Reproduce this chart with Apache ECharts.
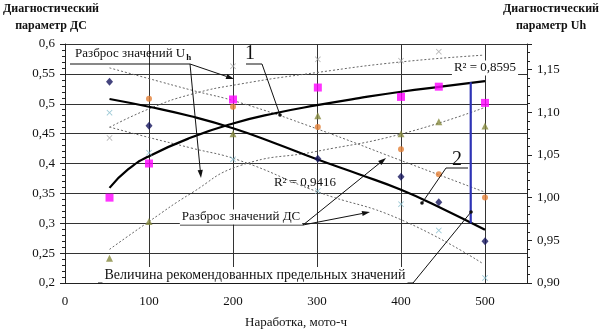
<!DOCTYPE html>
<html><head><meta charset="utf-8">
<script src="https://cdn.jsdelivr.net/npm/echarts@6/dist/echarts.min.js"></script>
<style>html,body{margin:0;padding:0;background:#fff}#c{width:601px;height:334px}</style>
</head><body><div id="c"></div>
<script>
// ---- data ----
const xRun = [53, 100, 200, 301, 400, 445, 500];
const dsDiamond = [0.537, 0.463, null, 0.408, 0.378, 0.335, 0.270];
const dsCircle = [null, 0.5085, 0.495, 0.461, 0.424, 0.382, 0.343];
const dsCross = [0.485, 0.418, 0.407, 0.354, 0.332, 0.288, 0.2085];
const uhSquare = [1.000, 1.040, 1.115, 1.129, 1.118, 1.130, 1.111];
const uhTriangle = [0.929, 0.972, 1.075, 1.096, 1.075, 1.089, 1.084];
const uhCross = [1.070, null, 1.154, 1.162, 1.1605, 1.171, null];

const trendUhX = [53, 75, 100, 150, 200, 250, 300, 350, 400, 450, 500];
const trendUh = [1.0115, 1.033, 1.0486, 1.0704, 1.0869, 1.0989, 1.1083, 1.1166, 1.1241, 1.1304, 1.1365];
const trendDsX = [53, 100, 150, 200, 250, 300, 350, 400, 450, 500];
const trendDs = [0.508, 0.495, 0.479, 0.459, 0.434, 0.407, 0.382, 0.356, 0.324, 0.289];

const bandX = [53, 100, 150, 208, 300, 400, 498];
const uhUpper = [1.0824, 1.104, 1.121, 1.133, 1.1466, 1.159, 1.1669];
const uhLower = [0.9394, 0.972, 1.005, 1.0374, 1.0543, 1.0745, 1.105];
const dsUpper = [0.560, 0.542, 0.523, 0.502, 0.458, 0.405, 0.353];
const dsLower = [0.461, 0.4435, 0.426, 0.405, 0.353, 0.306, 0.232];

const limitX = 483;
const limitRange = [0.300, 0.536];

const xTickLabels = ['0', '100', '200', '300', '400', '500'];
const leftTickLabels = ['0,2', '0,25', '0,3', '0,35', '0,4', '0,45', '0,5', '0,55', '0,6'];
const rightTickLabels = ['0,90', '0,95', '1,00', '1,05', '1,10', '1,15'];

// ---- helpers ----
const pair = (xs, ys) => xs.map((x, i) => [x, ys[i]]).filter(p => p[1] != null);
const F = '"Liberation Serif", "Times New Roman", serif';
const crossPath = 'path://M0,1L1,0L5,4L9,0L10,1L6,5L10,9L9,10L5,6L1,10L0,9L4,5Z';

function ln(x1, y1, x2, y2) {
  return { type: 'line', z: 50, shape: { x1, y1, x2, y2 }, style: { stroke: '#111', lineWidth: 1 } };
}
function dot(cx, cy) {
  return { type: 'circle', z: 51, shape: { cx, cy, r: 1.8 }, style: { fill: '#111' } };
}
function arrow(x1, y1, x2, y2) {
  const a = Math.atan2(y2 - y1, x2 - x1), L = 8, w = 2.6;
  const bx = x2 - L * Math.cos(a), by = y2 - L * Math.sin(a);
  return [ln(x1, y1, bx, by), {
    type: 'polygon', z: 50,
    shape: { points: [[x2, y2], [bx + w * Math.sin(a), by - w * Math.cos(a)], [bx - w * Math.sin(a), by + w * Math.cos(a)]] },
    style: { fill: '#111' }
  }];
}
function txt(x, y, text, size, opts) {
  opts = opts || {};
  return {
    type: 'text', z: 60, x, y,
    style: Object.assign({
      text, font: (opts.bold ? 'bold ' : '') + size + 'px ' + F, fill: '#111',
      align: opts.align || 'left', verticalAlign: 'middle'
    }, opts.bg ? { backgroundColor: '#fff', padding: [1, 2, 1, 2] } : {})
  };
}

const graphics = [
  txt(51, 9, 'Диагностический', 12, { bold: true, align: 'center' }),
  txt(51, 26, 'параметр ДС', 12, { bold: true, align: 'center' }),
  txt(551, 9, 'Диагностический', 12, { bold: true, align: 'center' }),
  txt(551, 26, 'параметр Uh', 12, { bold: true, align: 'center' }),

  {
    type: 'text', z: 60, x: 75, y: 54,
    style: {
      text: '{a|Разброс значений U}{b|h}', verticalAlign: 'middle', align: 'left',
      rich: {
        a: { font: '13px ' + F, fill: '#111', color: '#111' },
        b: { font: 'bold 9px ' + F, fill: '#111', color: '#111', padding: [7, 0, 0, 1] }
      }
    }
  },
  ln(70, 64, 190, 64),
  ...arrow(190, 64, 234, 79),
  ...arrow(190, 64, 201, 178),

  txt(250, 54, '1', 20, { align: 'center' }),
  ln(246, 64, 262, 64), ln(262, 64, 280, 115), dot(280, 115),

  txt(485, 68, 'R² = 0,8595', 13, { align: 'center', bg: true }),
  txt(305, 183, 'R² = 0,9416', 13, { align: 'center' }),

  txt(241, 217, 'Разброс значений ДС', 13, { align: 'center', bg: true }),
  ln(180, 225, 303, 225),
  ...arrow(303, 225, 386, 158),
  ...arrow(303, 225, 370, 212),

  txt(457, 160, '2', 20, { align: 'center' }),
  ln(446, 168, 468, 168), ln(446, 168, 422, 203), dot(422, 203),

  txt(255, 275, 'Величина рекомендованных предельных значений', 14, { align: 'center', bg: true }),
  ln(98, 283, 413, 283), ln(413, 283, 471, 212), dot(471, 212)
];

const chart = echarts.init(document.getElementById('c'), null, { renderer: 'canvas' });
const axisText = { fontFamily: F, fontSize: 13, color: '#111' };
const band = (axis, data) => ({ type: 'line', yAxisIndex: axis, data, smooth: true, symbol: 'none', silent: true,
  lineStyle: { color: '#666', width: 1, type: [2, 2] }, z: 2 });
chart.setOption({
  animation: false,
  backgroundColor: '#fff',
  grid: { left: 65, right: 74, top: 44, bottom: 42, containLabel: false },
  xAxis: {
    type: 'value', min: 0, max: 550, interval: 100,
    name: 'Наработка, мото-ч', nameLocation: 'middle', nameGap: 33,
    nameTextStyle: { fontFamily: F, fontSize: 13, color: '#111' },
    axisLine: { show: true, lineStyle: { color: '#222', width: 1 } },
    axisTick: { show: false },
    axisLabel: Object.assign({ margin: 12, showMaxLabel: false,
      formatter: v => { const i = xTickLabels.indexOf(String(v)); return i >= 0 ? xTickLabels[i] : ''; } }, axisText),
    splitLine: { show: true, lineStyle: { color: '#333', width: 1 } }
  },
  yAxis: [{
    type: 'value', min: 0.2, max: 0.6, interval: 0.05, position: 'left',
    axisLine: { show: true, lineStyle: { color: '#222', width: 1 } },
    axisTick: { show: true, inside: false, length: 5, lineStyle: { color: '#222' } },
    minorTick: { show: true, splitNumber: 5, length: 3, lineStyle: { color: '#222' } },
    axisLabel: Object.assign({ margin: 10,
      formatter: v => leftTickLabels[Math.round((v - 0.2) / 0.05)] || '' }, axisText),
    splitLine: { show: true, lineStyle: { color: '#333', width: 1 } }
  }, {
    type: 'value', min: 0.9, max: 1.18, interval: 0.05, position: 'right',
    axisLine: { show: true, lineStyle: { color: '#222', width: 1 } },
    axisTick: { show: true, inside: false, length: 5, lineStyle: { color: '#222' } },
    minorTick: { show: true, splitNumber: 5, length: 3, lineStyle: { color: '#222' } },
    axisLabel: Object.assign({ margin: 10, showMaxLabel: false,
      formatter: v => { const k = Math.round((v - 0.9) / 0.05); return (Math.abs(v - (0.9 + k * 0.05)) < 1e-6 && rightTickLabels[k]) || ''; } }, axisText),
    splitLine: { show: false }
  }],
  series: [
    band(1, pair(bandX, uhUpper)),
    band(1, pair(bandX, uhLower)),
    band(0, pair(bandX, dsUpper)),
    band(0, pair(bandX, dsLower)),

    { type: 'line', yAxisIndex: 1, data: pair(trendUhX, trendUh), smooth: true, symbol: 'none',
      lineStyle: { color: '#000', width: 2.2 }, z: 4 },
    { type: 'line', yAxisIndex: 0, data: pair(trendDsX, trendDs), smooth: true, symbol: 'none',
      lineStyle: { color: '#000', width: 2.2 }, z: 4 },
    { type: 'line', yAxisIndex: 0, data: [[limitX, limitRange[0]], [limitX, limitRange[1]]], symbol: 'none',
      lineStyle: { color: '#2d33b5', width: 2.2 }, z: 4 },

    { type: 'scatter', yAxisIndex: 0, data: pair(xRun, dsDiamond), symbol: 'diamond', symbolSize: [7, 8],
      itemStyle: { color: '#15155e' }, z: 5 },
    { type: 'scatter', yAxisIndex: 0, data: pair(xRun, dsCircle), symbol: 'circle', symbolSize: 6,
      itemStyle: { color: '#e47f36' }, z: 5 },
    { type: 'scatter', yAxisIndex: 0, data: pair(xRun, dsCross), symbol: crossPath, symbolSize: 6,
      itemStyle: { color: '#84bccc' }, z: 5 },
    { type: 'scatter', yAxisIndex: 1, data: pair(xRun, uhSquare), symbol: 'rect', symbolSize: 8,
      itemStyle: { color: '#ff00ff' }, z: 5 },
    { type: 'scatter', yAxisIndex: 1, data: pair(xRun, uhTriangle), symbol: 'triangle', symbolSize: 7,
      itemStyle: { color: '#868a3e' }, z: 5 },
    { type: 'scatter', yAxisIndex: 1, data: pair(xRun, uhCross), symbol: crossPath, symbolSize: 6,
      itemStyle: { color: '#a8a8a8' }, z: 5 }
  ],
  graphic: graphics
});
</script></body></html>
